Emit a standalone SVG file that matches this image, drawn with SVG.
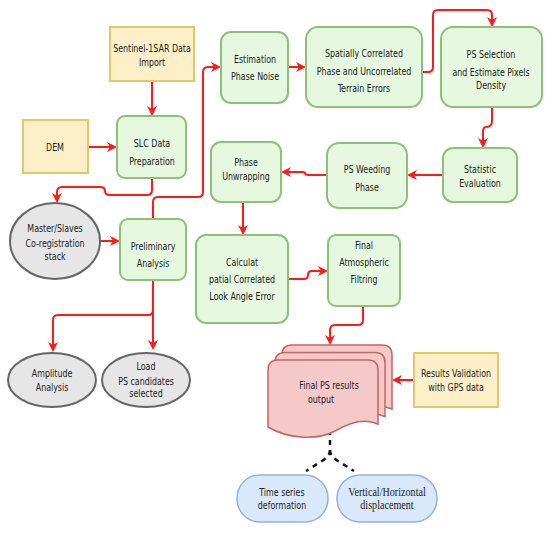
<svg xmlns="http://www.w3.org/2000/svg" width="550" height="533" viewBox="0 0 550 533">
<defs>
<style>
.t{font-family:"DejaVu Sans Condensed","DejaVu Sans","Liberation Sans",sans-serif;font-size:11px;fill:#222;text-anchor:middle;transform-box:fill-box;transform-origin:center;transform:scaleX(0.8)}
.ts{font-family:"Liberation Serif","DejaVu Serif",serif;font-size:11.5px;fill:#222;text-anchor:middle;transform-box:fill-box;transform-origin:center;transform:scaleX(0.88)}
.g{fill:#e6f8e0;stroke:#8cc278;stroke-width:2}
.y{fill:#fdf0c8;stroke:#e8c46c;stroke-width:2}
.e{fill:#e6e6e6;stroke:#666;stroke-width:2}
.p{fill:#f6c9c9;stroke:#c46464;stroke-width:1.5}
.b{fill:#dae8fc;stroke:#93b2dc;stroke-width:1.5}
.c{fill:none;stroke:#ff1a1a;stroke-width:2;marker-end:url(#a)}
.d{fill:none;stroke:#111;stroke-width:2.5;stroke-dasharray:5,5}
</style>
<marker id="a" viewBox="0 0 10 10" refX="8" refY="5" markerWidth="5" markerHeight="5" orient="auto" markerUnits="strokeWidth">
<path d="M0,0 L10,5 L0,10 L3,5 z" fill="#ff1a1a"/>
</marker>
<path id="doc" d="M268,370 Q268,360 278,360 H368 Q378,360 378,370 V424 C365,418 350,422 335,431 C318,440 290,440 268,427 Z"/>
</defs>
<g id="connectors">
<path class="c" d="M152,81 V114"/>
<path class="c" d="M88,147 H115"/>
<path class="c" d="M152,178 V190 Q152,195 147,195 H110 Q105,195 105,191 Q105,187 100,187 H62 Q57,187 57,192 V201"/>
<path class="c" d="M100,241 H118"/>
<path class="c" d="M153,219 V202 Q153,197 158,197 H198 Q203,197 203,192 V72 Q203,67 208,67 H219"/>
<path class="c" d="M153,280 V348"/>
<path class="c" d="M153,310 Q153,315 148,315 H58 Q53,315 53,320 V350"/>
<path class="c" d="M288,67 H304"/>
<path class="c" d="M422,72 H428 Q433,72 433,67 V15 Q433,10 438,10 H487 Q492,10 492,15 V25"/>
<path class="c" d="M492,107 V121 Q492,127 486,127 Q483,127 483,132 V146"/>
<path class="c" d="M443,175 H409"/>
<path class="c" d="M327,175 H308 Q305,175 305,173 Q305,172 302,172 H283"/>
<path class="c" d="M243,202 V233"/>
<path class="c" d="M288,279 H304 Q308,279 308,275 Q308,271 312,271 H326"/>
<path class="c" d="M363,306 V320 Q363,325 358,325 H335 Q330,325 330,330 V343"/>
<path class="c" d="M414,380 H394"/>
<path class="d" d="M330,430 V450 Q330,456 322,461 L306,471"/>
<path class="d" d="M330,450 Q330,456 338,461 L354,471"/>
</g>
<g id="sentinel"><rect class="y" x="110" y="27" width="84" height="54"/><text class="t" x="152" y="52">Sentinel-1SAR Data</text><text class="t" x="152" y="66">Import</text></g>
<g id="dem"><rect class="y" x="23" y="120" width="65" height="53"/><text class="t" x="55" y="151">DEM</text></g>
<g id="slc"><rect class="g" x="117" y="116" width="69" height="62" rx="8"/><text class="t" x="152" y="147">SLC Data</text><text class="t" x="152" y="165">Preparation</text></g>
<g id="estimation"><rect class="g" x="221" y="32" width="67" height="71" rx="10"/><text class="t" x="255" y="63">Estimation</text><text class="t" x="255" y="80">Phase Noise</text></g>
<g id="spatially"><rect class="g" x="306" y="27" width="116" height="80" rx="12"/><text class="t" x="364" y="57">Spatially Correlated</text><text class="t" x="364" y="75">Phase and Uncorrelated</text><text class="t" x="364" y="92">Terrain Errors</text></g>
<g id="psselection"><rect class="g" x="441" y="27" width="101" height="80" rx="12"/><text class="t" x="491" y="58">PS Selection</text><text class="t" x="491" y="76">and Estimate Pixels</text><text class="t" x="491" y="89">Density</text></g>
<g id="statistic"><rect class="g" x="443" y="148" width="74" height="54" rx="10"/><text class="t" x="480" y="173">Statistic</text><text class="t" x="480" y="187">Evaluation</text></g>
<g id="weeding"><rect class="g" x="327" y="143" width="80" height="65" rx="12"/><text class="t" x="367" y="173">PS Weeding</text><text class="t" x="367" y="191">Phase</text></g>
<g id="unwrapping"><rect class="g" x="211" y="142" width="70" height="60" rx="10"/><text class="t" x="246" y="166">Phase</text><text class="t" x="246" y="180">Unwrapping</text></g>
<g id="calculat"><rect class="g" x="196" y="235" width="92" height="88" rx="10"/><text class="t" x="242" y="266">Calculat</text><text class="t" x="242" y="283">patial Correlated</text><text class="t" x="242" y="300">Look Angle Error</text></g>
<g id="atmospheric"><rect class="g" x="328" y="235" width="72" height="71" rx="8"/><text class="t" x="364" y="249">Final</text><text class="t" x="364" y="266">Atmospheric</text><text class="t" x="364" y="283">Filtring</text></g>
<g id="master"><ellipse class="e" cx="55" cy="241" rx="45" ry="38"/><text class="t" x="55" y="232">Master/Slaves</text><text class="t" x="55" y="247">Co-registration</text><text class="t" x="55" y="260">stack</text></g>
<g id="preliminary"><rect class="g" x="120" y="219" width="66" height="61" rx="8"/><text class="t" x="153" y="250">Preliminary</text><text class="t" x="153" y="267">Analysis</text></g>
<g id="amplitude"><ellipse class="e" cx="52" cy="380" rx="44" ry="27"/><text class="t" x="52" y="377">Amplitude</text><text class="t" x="52" y="391">Analysis</text></g>
<g id="load"><ellipse class="e" cx="146" cy="380" rx="44" ry="27"/><text class="t" x="146" y="370">Load</text><text class="t" x="146" y="385">PS candidates</text><text class="t" x="146" y="397">selected</text></g>
<g id="finalps"><use href="#doc" class="p" transform="translate(14,-15)"/><use href="#doc" class="p" transform="translate(7,-7.5)"/><use href="#doc" class="p"/><text class="t" x="329" y="389">Final PS results</text><text class="t" x="321" y="403">output</text></g>
<g id="validation"><rect class="y" x="414" y="353" width="84" height="54"/><text class="t" x="456" y="377">Results Validation</text><text class="t" x="456" y="391">with GPS data</text></g>
<g id="timeseries"><rect class="b" x="237" y="475" width="91" height="47" rx="23"/><text class="t" x="282" y="496">Time series</text><text class="t" x="282" y="509">deformation</text></g>
<g id="vertical"><rect class="b" x="337" y="475" width="100" height="47" rx="23"/><text class="ts" x="387" y="496">Vertical/Horizontal</text><text class="ts" x="387" y="509">displacement</text></g>
</svg>
